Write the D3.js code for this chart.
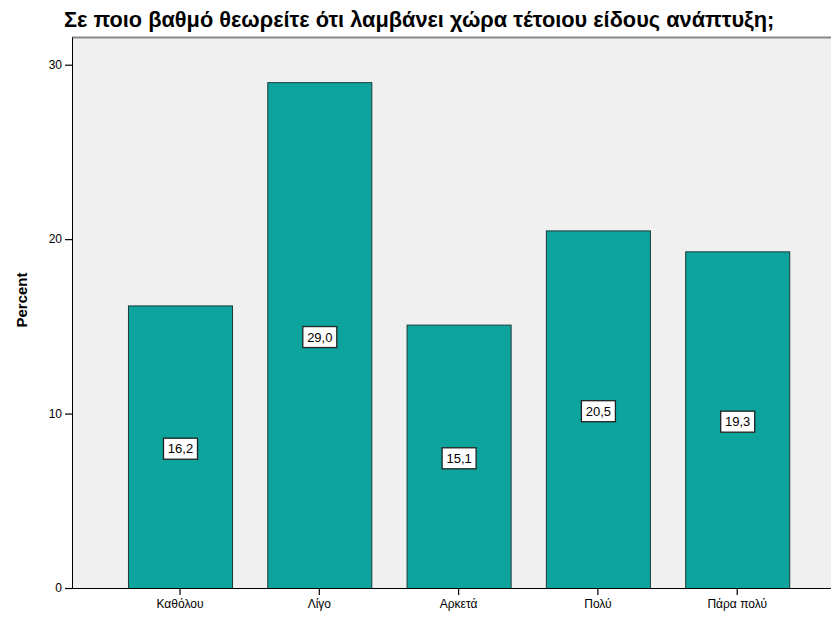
<!DOCTYPE html>
<html><head><meta charset="utf-8">
<script src="https://cdn.jsdelivr.net/npm/d3@7"></script>
<style>body{margin:0;background:#fff}svg{display:block}</style>
</head><body>
<svg id="c" width="831" height="617"></svg>
<script>
const title = "Σε ποιο βαθμό θεωρείτε ότι λαμβάνει χώρα τέτοιου είδους ανάπτυξη;";
const categories = ["Καθόλου", "Λίγο", "Αρκετά", "Πολύ", "Πάρα πολύ"];
const percents = [16.2, 29.0, 15.1, 20.5, 19.3];
const labels = ["16,2", "29,0", "15,1", "20,5", "19,3"];
const yTicks = [0, 10, 20, 30];
const yTitle = "Percent";

const svg = d3.select("#c");
const F = "Arial, 'Liberation Sans', sans-serif";
const plot = {left: 72, top: 37.5, right: 831, bottom: 588};

const y = d3.scaleLinear().domain([0, 30]).range([588, 64.7]);
const x = d3.scaleBand().domain(categories).range([110.35, 806.85])
  .paddingInner(0.253).paddingOuter(0.1265);

// plot background
svg.append("rect").attr("x", plot.left).attr("y", plot.top)
  .attr("width", plot.right - plot.left).attr("height", plot.bottom - plot.top)
  .attr("fill", "#f0f0f0");
svg.append("line").attr("x1", plot.left).attr("x2", plot.right)
  .attr("y1", plot.top).attr("y2", plot.top)
  .attr("stroke", "#888").attr("stroke-width", 2);

// bars
svg.append("g").selectAll("rect").data(percents).join("rect")
  .attr("x", (d, i) => x(categories[i]) + 0.5)
  .attr("y", d => y(d) + 0.5)
  .attr("width", x.bandwidth())
  .attr("height", d => y(0) - y(d))
  .attr("fill", "#0ca49c").attr("stroke", "#1d3b39").attr("stroke-width", 1);

// value labels
const lg = svg.append("g").selectAll("g").data(percents).join("g")
  .attr("transform", (d, i) => `translate(${x(categories[i]) + x.bandwidth()/2 + 0.5},${(y(d) + y(0))/2 + 2})`);
lg.append("rect").attr("x", -17).attr("y", -10.5).attr("width", 34).attr("height", 21)
  .attr("fill", "#fff").attr("stroke", "#222").attr("stroke-width", 1.3);
lg.append("text").attr("text-anchor", "middle").attr("dy", "0.36em")
  .attr("font-family", F).attr("font-size", 13).attr("fill", "#000")
  .text((d, i) => labels[i]);

// y axis
const ya = svg.append("g").attr("transform", `translate(${plot.left},0)`)
  .call(d3.axisLeft(y).tickValues(yTicks).tickSize(7).tickPadding(3).tickFormat(d3.format("d")));
ya.select(".domain").attr("d", `M0.5,${plot.top}V${plot.bottom}`).attr("stroke", "#000");
ya.selectAll("line").attr("stroke", "#000").attr("stroke-width", 1.2);
ya.selectAll("text").attr("font-family", F).attr("font-size", 12).attr("fill", "#000");

// x axis
const xa = svg.append("g").attr("transform", `translate(0,${plot.bottom})`)
  .call(d3.axisBottom(x).tickSize(7).tickPadding(4));
xa.select(".domain").attr("d", `M${plot.left},0.5H${plot.right}`).attr("stroke", "#000").attr("stroke-width", 1.2);
xa.selectAll("line").attr("stroke", "#000").attr("stroke-width", 1.2);
xa.selectAll("text").attr("font-family", F).attr("font-size", 12).attr("fill", "#000");

// y title
svg.append("text").attr("transform", "translate(27,300) rotate(-90)")
  .attr("text-anchor", "middle").attr("font-family", F).attr("font-weight", "bold")
  .attr("font-size", 15).attr("fill", "#000").text(yTitle);

// title
const t = svg.append("text").attr("x", 64).attr("y", 27)
  .attr("font-family", F).attr("font-weight", "bold").attr("font-size", 17)
  .attr("fill", "#000").text(title);
const w = t.node().getComputedTextLength();
t.attr("font-size", 17 * 711 / w);
</script>
</body></html>
